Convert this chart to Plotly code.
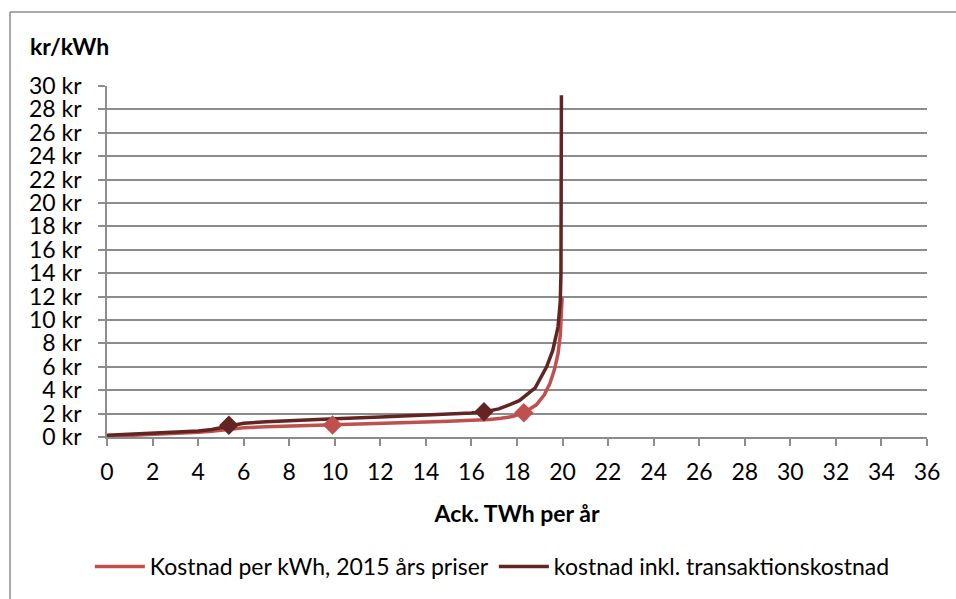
import plotly.graph_objects as go

# Accumulated potential (TWh per year) vs cost (kr/kWh)
base_x = [0, 1, 2, 3, 4, 4.6, 5.0, 5.5, 6, 7, 8, 9, 10, 11, 12, 13, 14, 15, 16,
          16.8, 17.3, 17.8, 18.3, 18.85, 19.2, 19.45, 19.65, 19.8, 19.9, 19.95, 19.98]
base_y = [0.05, 0.13, 0.2, 0.28, 0.4, 0.5, 0.6, 0.72, 0.8, 0.88, 0.93, 0.97, 1.02,
          1.08, 1.15, 1.22, 1.28, 1.35, 1.42, 1.5, 1.6, 1.75, 2.08, 2.75, 3.6, 4.6,
          5.8, 7.1, 8.7, 10.2, 11.9]

trans_x = [0, 1, 2, 3, 4, 4.6, 5.0, 5.35, 6, 7, 8, 9, 10, 12, 14, 16, 16.55,
           17.2, 17.6, 18.1, 18.8, 19.3, 19.57, 19.8, 19.9, 19.93, 19.95]
trans_y = [0.15, 0.25, 0.33, 0.4, 0.52, 0.65, 0.8, 1.0, 1.18, 1.3, 1.4, 1.48, 1.55,
           1.7, 1.85, 2.05, 2.15, 2.4, 2.7, 3.1, 4.2, 6.0, 7.4, 9.4, 11.6, 14, 29.2]

# Highlighted points on each curve
base_mark_x = [9.9, 18.3]
base_mark_y = [1.02, 2.08]
trans_mark_x = [5.35, 16.55]
trans_mark_y = [1.0, 2.15]

series_names = ["Kostnad per kWh, 2015 års priser", "kostnad inkl. transaktionskostnad"]
y_ticks = list(range(0, 31, 2))
y_labels = [f"{v} kr" for v in y_ticks]
x_ticks = list(range(0, 37, 2))

LIGHT = "#C0504D"
DARK = "#632523"
GRID = "#8C8C8C"
FONT = "Lato"
FS = 23

fig = go.Figure()
fig.add_trace(go.Scatter(x=base_x, y=base_y, mode="lines", name=series_names[0],
                         line=dict(color=LIGHT, width=3.5)))
fig.add_trace(go.Scatter(x=trans_x, y=trans_y, mode="lines", name=series_names[1],
                         line=dict(color=DARK, width=3.5)))
fig.add_trace(go.Scatter(x=base_mark_x, y=base_mark_y, mode="markers", showlegend=False,
                         marker=dict(symbol="diamond", size=15, color=LIGHT)))
fig.add_trace(go.Scatter(x=trans_mark_x, y=trans_mark_y, mode="markers", showlegend=False,
                         marker=dict(symbol="diamond", size=15, color=DARK)))

L, R, T, B = 107, 29, 86, 162
W, H = 956, 599
pw, ph = W - L - R, H - T - B

fig.update_layout(
    width=W, height=H,
    margin=dict(l=L, r=R, t=T, b=B, autoexpand=False),
    paper_bgcolor="white", plot_bgcolor="white",
    font=dict(family=FONT, size=FS, color="black"),
    showlegend=True,
    legend=dict(orientation="h", xref="container", yref="container",
                x=0.515, xanchor="center", y=(H - 545) / H, yanchor="top",
                font=dict(family=FONT, size=FS), itemwidth=50, tracegroupgap=0),
    xaxis=dict(range=[0, 36], tickvals=x_ticks, showgrid=False, zeroline=False,
               showline=True, linecolor=GRID, linewidth=1.5,
               ticks="outside", ticklen=7, tickcolor=GRID, tickwidth=1.5,
               tickfont=dict(size=FS), ticklabelstandoff=7,
               title=dict(text="<b>Ack. TWh per år</b>", font=dict(size=FS), standoff=22)),
    yaxis=dict(range=[0, 30], tickvals=y_ticks, ticktext=y_labels, showgrid=True,
               gridcolor=GRID, gridwidth=1.5, zeroline=False,
               showline=True, linecolor=GRID, linewidth=1.5,
               ticks="outside", ticklen=7, tickcolor=GRID, tickwidth=1.5,
               tickfont=dict(size=FS), ticklabelstandoff=12),
    annotations=[dict(text="<b>kr/kWh</b>", xref="paper", yref="paper",
                      x=(28 - L) / pw, y=(H - B - 46) / ph, xanchor="left", yanchor="middle",
                      showarrow=False, font=dict(size=FS))],
    shapes=[
        # chart frame: left and top edges
        dict(type="line", xref="paper", yref="paper",
             x0=(10 - L) / pw, x1=(10 - L) / pw,
             y0=(H - B - (H + 20)) / ph, y1=(H - B - 12) / ph,
             line=dict(color=GRID, width=1.5)),
        dict(type="line", xref="paper", yref="paper",
             x0=(10 - L) / pw, x1=(W + 20 - L) / pw,
             y0=(H - B - 12) / ph, y1=(H - B - 12) / ph,
             line=dict(color=GRID, width=1.5)),
    ],
)

fig.write_html("out.html")
